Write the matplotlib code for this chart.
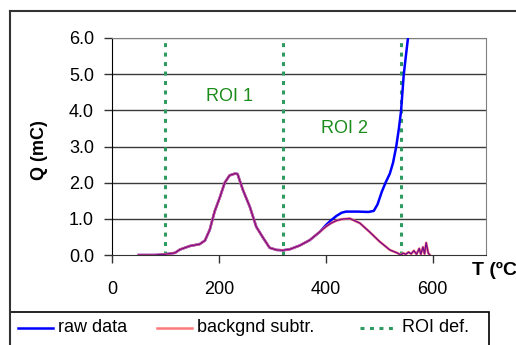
import matplotlib.pyplot as plt
from matplotlib.lines import Line2D
from matplotlib.patches import Rectangle

plt.rcParams['font.family'] = ['Liberation Sans', 'DejaVu Sans']

# Temperature (ºC) and charge (mC) for the raw and background-subtracted curves
temp_bkg = [50, 80, 100, 118, 127, 146, 164, 174, 183, 192, 202, 211, 220, 230, 235,
            245, 258, 270, 283, 295, 308, 320, 333, 351, 370, 389, 400, 410, 420,
            430, 445, 464, 482, 501, 520, 535, 540, 545, 550, 555, 560, 565, 570,
            575, 578, 582, 585, 588, 592, 595]
q_bkg = [0.0, 0.0, 0.02, 0.06, 0.15, 0.25, 0.3, 0.4, 0.7, 1.2, 1.6, 2.0, 2.2, 2.25, 2.24,
         1.8, 1.33, 0.78, 0.47, 0.2, 0.14, 0.13, 0.16, 0.26, 0.41, 0.64, 0.78, 0.88, 0.95,
         0.99, 1.01, 0.88, 0.64, 0.37, 0.14, 0.05, 0.0, 0.05, 0.02, 0.08, 0.03, 0.12, 0.02,
         0.18, 0.02, 0.22, 0.03, 0.34, 0.05, 0.0]

temp_raw = [50, 80, 100, 118, 127, 146, 164, 174, 183, 192, 202, 211, 220, 230, 235,
            245, 258, 270, 283, 295, 308, 320, 333, 351, 370, 389, 400, 410, 420,
            430, 438, 460, 480, 490, 497, 505, 512, 520, 526, 532, 537, 541, 546, 550, 554]
q_raw = [0.0, 0.0, 0.02, 0.06, 0.15, 0.25, 0.3, 0.4, 0.7, 1.2, 1.6, 2.0, 2.2, 2.25, 2.24,
         1.8, 1.33, 0.78, 0.47, 0.2, 0.14, 0.13, 0.16, 0.26, 0.41, 0.64, 0.82, 0.96, 1.08,
         1.17, 1.2, 1.2, 1.19, 1.22, 1.4, 1.75, 2.0, 2.25, 2.55, 3.0, 3.5, 3.98, 4.98, 5.5, 6.0]

roi_edges = [100, 320, 540]
roi_labels = ['ROI 1', 'ROI 2']
roi_label_pos = [(219, 4.37), (435, 3.5)]

x_ticks = [0, 200, 400, 600]
y_ticks = [0, 1, 2, 3, 4, 5, 6]

legend_labels = ['raw data', 'backgnd subtr.', 'ROI def.']

green = '#2e9a5f'
blue = '#0000ff'
pink = '#ff7b7b'
fs = 13

fig = plt.figure(figsize=(5.16, 3.45), dpi=100)
ax = fig.add_axes([112 / 516, 1 - 255 / 345, (486 - 112) / 516, (255 - 38) / 345])

for y in y_ticks[1:]:
    ax.axhline(y, color='#3a3a3a' if y < 6 else '#808080', lw=1.0, zorder=1)

roi_style = dict(color=green, lw=2.2, ls=(0, (1.3, 1.8)))
for x in roi_edges:
    ax.plot([x, x], [0, 6], zorder=2, **roi_style)

ax.plot(temp_raw, q_raw, color=blue, lw=1.8, zorder=3)
ax.plot(temp_bkg, q_bkg, color=pink, lw=1.8, zorder=4)
ax.plot(temp_bkg, q_bkg, color='#7a0c8c', lw=1.0, zorder=5)

for txt, (x, y) in zip(roi_labels, roi_label_pos):
    ax.text(x, y, txt, color='#1a8c1a', fontsize=fs, ha='center', va='center')

ax.set_xlim(0, 700)
ax.set_ylim(0, 6)
ax.set_xticks(x_ticks)
ax.set_yticks(y_ticks)
ax.set_yticklabels([f'{v:.1f}' for v in y_ticks])
ax.tick_params(axis='both', labelsize=fs, direction='out', length=6, width=1, color='#333333')
ax.tick_params(axis='x', pad=13)
ax.tick_params(axis='y', pad=7)

ax.spines['left'].set_color('black')
ax.spines['bottom'].set_color('#333333')
ax.spines['top'].set_color('#808080')
ax.spines['right'].set_color('#808080')

fig.text(40 / 516, 1 - 150 / 345, 'Q (mC)', rotation=90, fontsize=fs, fontweight='bold',
         ha='center', va='center')
fig.text(472 / 516, 1 - 270 / 345, 'T (ºC)', fontsize=14, fontweight='bold',
         ha='left', va='center')

# chart frame and legend box
fig.add_artist(Line2D([10 / 516, 1.0], [1 - 11 / 345] * 2, color='#333333', lw=1.5))
fig.add_artist(Line2D([10 / 516] * 2, [0, 1 - 11 / 345], color='#333333', lw=1.5))
fig.add_artist(Rectangle((10 / 516, -0.05), (489 - 10) / 516, 0.05 + 1 - 312 / 345,
                         fill=False, edgecolor='black', lw=1.2))

# legend entries laid out by hand
legend_y = 1 - 328 / 345
entries = [(18, 53, dict(color=blue, lw=1.8)),
           (157, 192, dict(color=pink, lw=1.8)),
           (360, 397, roi_style)]
for (x0, x1, style), label in zip(entries, legend_labels):
    fig.add_artist(Line2D([x0 / 516, x1 / 516], [legend_y] * 2, **style))
    fig.text((x1 + 5) / 516, legend_y, label, fontsize=fs, ha='left', va='center')

fig.savefig('out.png', dpi=100)
